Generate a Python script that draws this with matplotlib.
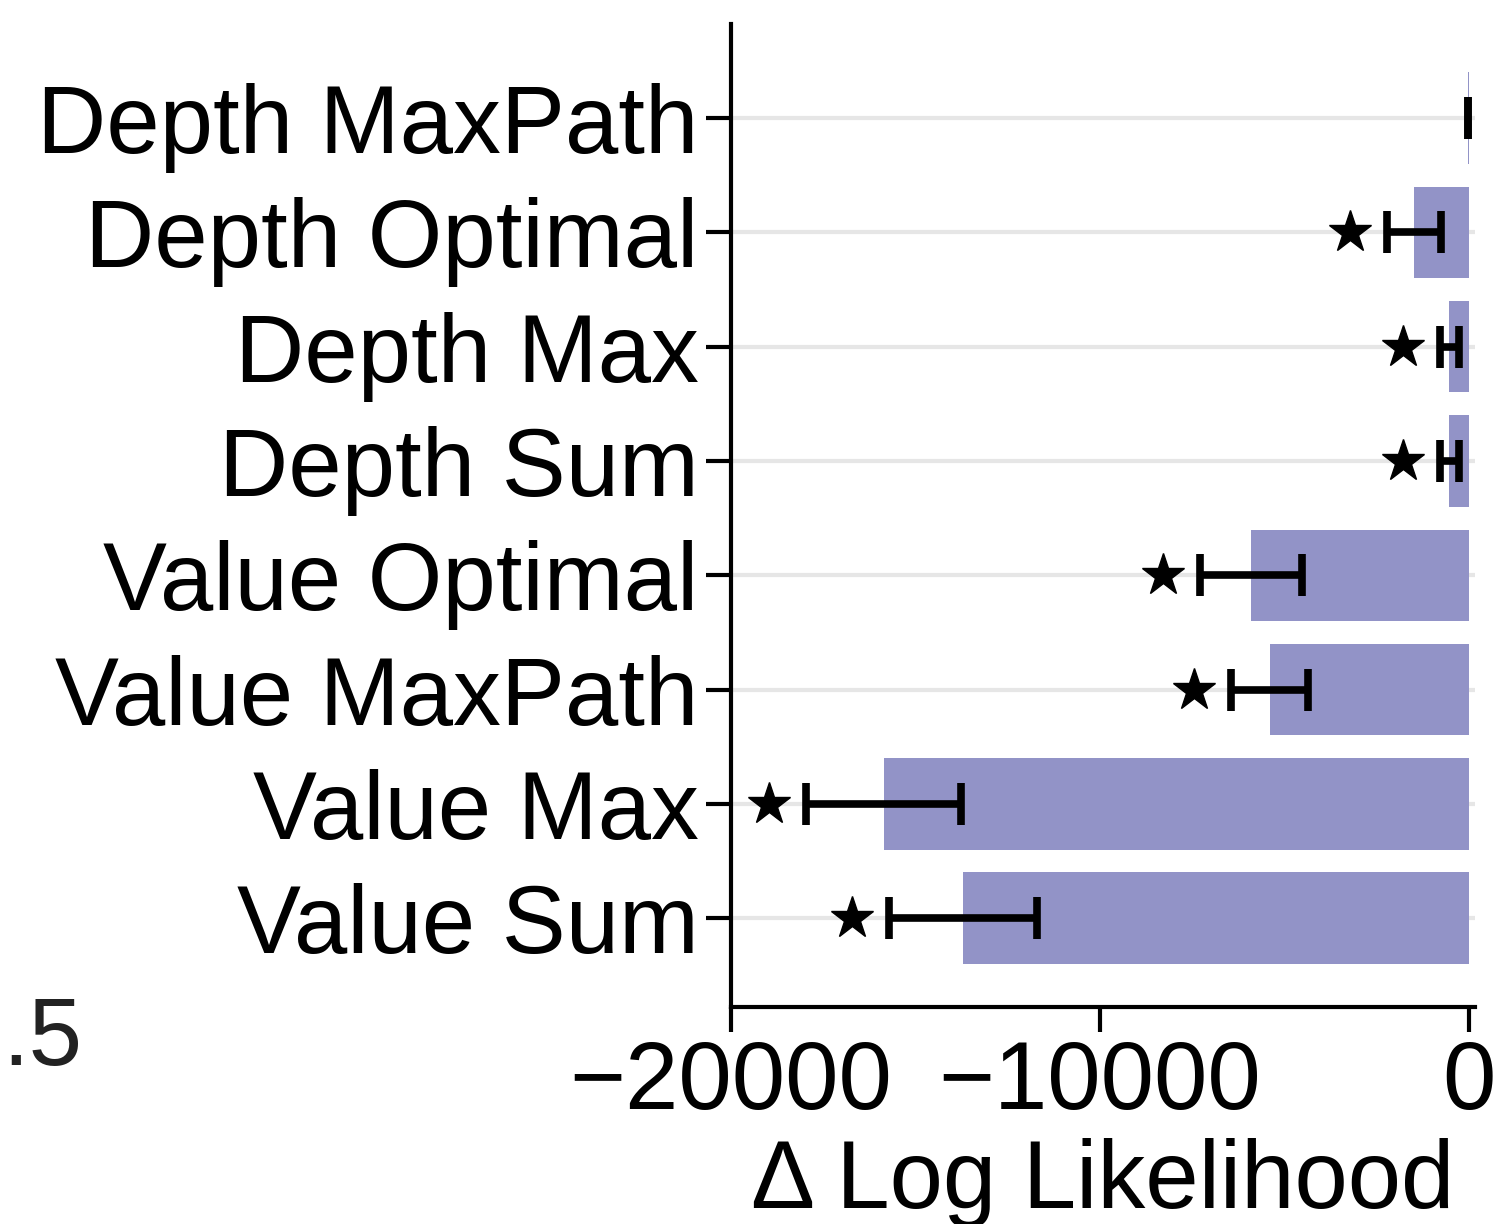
import matplotlib.pyplot as plt
import numpy as np

plt.rcParams['font.family'] = ['Liberation Sans', 'DejaVu Sans']

# models, bottom to top
labels = ["Value Sum", "Value Max", "Value MaxPath", "Value Optimal",
          "Depth Sum", "Depth Max", "Depth Optimal", "Depth MaxPath"]
delta_ll = [-13700, -15850, -5400, -5900, -530, -530, -1500, -30]
sem = [2000, 2100, 1050, 1380, 270, 270, 730, 0]
significant = [True, True, True, True, True, True, True, False]

bar_color = "#9293c7"
fs = 69

fig = plt.figure(figsize=(14.94, 12.24), dpi=100)
ax = fig.add_axes([0.489, 0.177, 0.498, 0.803])

y = np.arange(len(labels))
ax.barh(y, delta_ll, height=0.8, color=bar_color, zorder=2)
ax.errorbar(delta_ll, y, xerr=sem, fmt="none", ecolor="black",
            elinewidth=5.5, capsize=15, capthick=5.5, zorder=3)

# significance stars left of the error bars
for yi, v, e, sig in zip(y, delta_ll, sem, significant):
    if sig:
        ax.plot(v - e - 1000, yi, marker="*", color="black",
                markersize=32, zorder=4)

ax.set_xlim(-20000, 150)
ax.set_ylim(-0.78, 7.82)
ax.set_xticks([-20000, -10000, 0])
ax.set_xticklabels(["\u221220000", "\u221210000", "0"])
ax.set_yticks(y)
ax.set_yticklabels(labels)
ax.tick_params(axis="both", labelsize=fs, width=3, length=18, pad=5)
ax.set_xlabel("\u0394 Log Likelihood", fontsize=fs, labelpad=6)

ax.grid(axis="y", color="#e6e6e6", linewidth=3, zorder=0)
ax.set_axisbelow(True)
for side in ["top", "right"]:
    ax.spines[side].set_visible(False)
for side in ["left", "bottom"]:
    ax.spines[side].set_linewidth(3)

# tick label of a neighbouring panel
fig.text(82 / 1494, 1 - 1040 / 1224, ".5", fontsize=fs, ha="right",
         va="center", color="#222222")

fig.savefig("out.png", dpi=100)
